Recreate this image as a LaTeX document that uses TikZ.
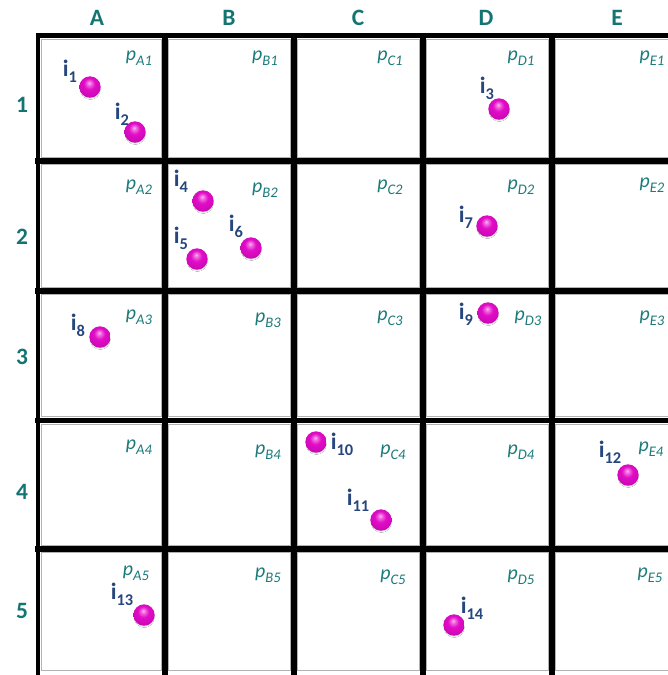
\documentclass[tikz,border=0pt]{standalone}
\usepackage{fontspec}
\setmainfont{Carlito}
\usetikzlibrary{shadows.blur}

\definecolor{headteal}{RGB}{20,116,116}
\definecolor{cellteal}{RGB}{28,122,122}
\definecolor{itemblue}{RGB}{38,70,126}
\definecolor{ballhi}{RGB}{252,185,242}
\definecolor{ballpink}{RGB}{226,12,200}
\definecolor{balldark}{RGB}{150,0,132}

\pgfdeclareradialshading{pinkball}{\pgfpoint{-2bp}{10bp}}{%
  color(0bp)=(ballhi); color(4bp)=(ballhi!60!ballpink); color(13bp)=(ballpink);
  color(26bp)=(ballpink!75!balldark); color(34bp)=(balldark); color(50bp)=(balldark)}

\newcommand{\cellp}[1]{p\raisebox{-4.5pt}{\fontsize{12.5}{12.5}\selectfont #1}}
\newcommand{\itemi}[1]{i\raisebox{-5pt}{\fontsize{14}{14}\selectfont #1}}

\tikzset{
  head/.style={text=headteal,inner sep=0pt,font=\fontsize{20}{20}\selectfont\bfseries},
  cellname/.style={text=cellteal,inner sep=0pt,font=\fontsize{17}{17}\selectfont\itshape},
  item/.style={text=itemblue,inner sep=0pt,font=\fontsize{20}{20}\selectfont\bfseries},
  ball/.style={circle,inner sep=0pt,minimum size=0.64cm,shading=pinkball,
    blur shadow={shadow xshift=0.3pt,shadow yshift=-2.6pt,shadow scale=0.8,shadow blur steps=5,shadow blur radius=1.6pt,shadow opacity=28}},
}

\begin{document}
\begin{tikzpicture}[x=0.03cm,y=-0.03cm]

   \useasboundingbox (0,0) rectangle (667,675);
   \fill[white] (0,0) rectangle (667,675);

   % cells with their grey edge
   \foreach \xa/\xb in {38/165,165/294,294/423,423/552,552/690}
     \foreach \ya/\yb in {35.5/161,161/291,291/420.5,420.5/549,549/674}
       \draw[black!30,line width=0.8pt] (\xa+3.7,\ya+3.7) rectangle (\xb-3.7,\yb-3.7);

   % thick grid lines
   \draw[line width=3.8pt,line cap=rect] (38,35.5) -- (38,680)  (38,35.5) -- (680,35.5);
   \foreach \x in {165,294,423,552}
     \draw[line width=4.8pt,line cap=rect] (\x,35.5) -- (\x,680);
   \foreach \y in {161,291,420.5,549}
     \draw[line width=4.8pt,line cap=rect] (38,\y) -- (680,\y);

   % column and row heads
   \node[head] (colA) at (97,18) {A};
   \node[head] (colB) at (229,18) {B};
   \node[head] (colC) at (358,18) {C};
   \node[head] (colD) at (486,18) {D};
   \node[head] (colE) at (617,18) {E};

   \node[head] (row1) at (22,105) {1};
   \node[head] (row2) at (22,237) {2};
   \node[head] (row3) at (22,357) {3};
   \node[head] (row4) at (22,492) {4};
   \node[head] (row5) at (22,611) {5};

   % cell names
   \node[cellname] (pA1) at (139,58) {\cellp{A1}};
   \node[cellname] (pB1) at (265,58) {\cellp{B1}};
   \node[cellname] (pC1) at (390,58) {\cellp{C1}};
   \node[cellname] (pD1) at (521,58) {\cellp{D1}};
   \node[cellname] (pE1) at (652,58) {\cellp{E1}};

   \node[cellname] (pA2) at (139,187) {\cellp{A2}};
   \node[cellname] (pB2) at (265,190) {\cellp{B2}};
   \node[cellname] (pC2) at (390,187) {\cellp{C2}};
   \node[cellname] (pD2) at (521,187) {\cellp{D2}};
   \node[cellname] (pE2) at (652,185) {\cellp{E2}};

   \node[cellname] (pA3) at (139,317) {\cellp{A3}};
   \node[cellname] (pB3) at (268,320) {\cellp{B3}};
   \node[cellname] (pC3) at (390,318) {\cellp{C3}};
   \node[cellname] (pD3) at (528,318) {\cellp{D3}};
   \node[cellname] (pE3) at (652,318) {\cellp{E3}};

   \node[cellname] (pA4) at (139,447) {\cellp{A4}};
   \node[cellname] (pB4) at (268,452) {\cellp{B4}};
   \node[cellname] (pC4) at (393,452) {\cellp{C4}};
   \node[cellname] (pD4) at (521,452) {\cellp{D4}};
   \node[cellname] (pE4) at (651,449) {\cellp{E4}};

   \node[cellname] (pA5) at (136,573) {\cellp{A5}};
   \node[cellname] (pB5) at (268,575) {\cellp{B5}};
   \node[cellname] (pC5) at (393,577) {\cellp{C5}};
   \node[cellname] (pD5) at (521,577) {\cellp{D5}};
   \node[cellname] (pE5) at (650,575) {\cellp{E5}};

   % items
   \node[ball] (b1) at (90,87) {};
   \node[ball] (b2) at (135,132) {};
   \node[ball] (b3) at (499,109) {};
   \node[ball] (b4) at (203,201) {};
   \node[ball] (b5) at (197,259) {};
   \node[ball] (b6) at (251,248) {};
   \node[ball] (b7) at (487,226) {};
   \node[ball] (b8) at (100,337) {};
   \node[ball] (b9) at (488,313) {};
   \node[ball] (b10) at (316,442) {};
   \node[ball] (b11) at (381,520) {};
   \node[ball] (b12) at (628,475) {};
   \node[ball] (b13) at (144,615) {};
   \node[ball] (b14) at (454,625) {};

   \node[item] (i1) at (70,71) {\itemi{1}};
   \node[item] (i2) at (122,114) {\itemi{2}};
   \node[item] (i3) at (487,88) {\itemi{3}};
   \node[item] (i4) at (181,181) {\itemi{4}};
   \node[item] (i5) at (181,238) {\itemi{5}};
   \node[item] (i6) at (236,226) {\itemi{6}};
   \node[item] (i7) at (466,217) {\itemi{7}};
   \node[item] (i8) at (78,325) {\itemi{8}};
   \node[item] (i9) at (466,314) {\itemi{9}};
   \node[item] (i10) at (342,444) {\itemi{10}};
   \node[item] (i11) at (358,500) {\itemi{11}};
   \node[item] (i12) at (610,452) {\itemi{12}};
   \node[item] (i13) at (122,594) {\itemi{13}};
   \node[item] (i14) at (472,608) {\itemi{14}};

\end{tikzpicture}
\end{document}
